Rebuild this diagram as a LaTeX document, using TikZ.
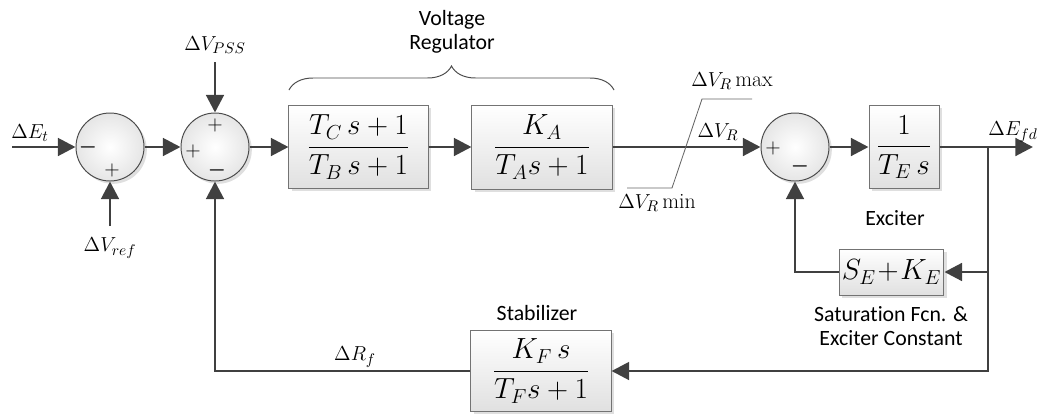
\documentclass[tikz,border=0pt]{standalone}
\usepackage{amsmath}
\usepackage{fontspec}
\setsansfont[Ligatures=NoCommon]{Carlito}
\usetikzlibrary{arrows.meta,shadows,decorations.pathreplacing}

\begin{document}
\begin{tikzpicture}[x=0.025cm, y=-0.025cm,
	wire/.style={line width=2.1pt, draw=black!75},
	sig/.style={wire, -{Triangle[length=0.44cm, width=0.44cm]}},
	blk/.style={shape=rectangle, draw=black!55, line width=0.7pt, top color=white, bottom color=black!12, drop shadow={opacity=0.25, shadow xshift=2pt, shadow yshift=-2pt}, inner sep=2pt, font=\fontsize{20}{24}\selectfont},
	sumj/.style={shape=circle, draw=black!70, line width=0.7pt, inner color=white, outer color=black!10, minimum size=1.7cm, drop shadow={opacity=0.25, shadow xshift=2pt, shadow yshift=-2pt}},
	lbl/.style={font=\fontsize{15.5}{18}\selectfont, inner sep=1pt},
	txt/.style={font=\sffamily\fontsize{15.5}{17}\selectfont, align=center},
	sgn/.style={font=\fontsize{14}{16}\selectfont, inner sep=0pt}]
	\useasboundingbox (0,0) rectangle (1039,416);
	% summing junctions
	\node[sumj] (s1) at (110,147){};
	\node[sumj] (s2) at (215,147){};
	\node[sumj] (s3) at (795,147){};
	% blocks
	\node[blk, minimum width=3.475cm, minimum height=2.075cm] (reg1) at (358.5,147){$\dfrac{T_C\,s+1}{T_B\,s+1}$};
	\node[blk, minimum width=3.5cm, minimum height=2.1cm] (reg2) at (542,147){$\dfrac{K_A}{T_A s+1}$};
	\node[blk, minimum width=1.75cm, minimum height=2.075cm] (exc) at (904,147){$\dfrac{1}{T_E\,s}$};
	\node[blk, minimum width=2.575cm, minimum height=1.15cm] (sat) at (891.5,272){$S_E\!+\!K_E$};
	\node[blk, minimum width=3.5cm, minimum height=2.025cm] (stab) at (541,371){$\dfrac{K_F\,s}{T_F s+1}$};
	% free ends
	\coordinate (et) at (12,147);
	\coordinate (pss) at (215,62);
	\coordinate (vref) at (110,226);
	\coordinate (efd) at (1033,147);
	\coordinate (br) at (988,147);
	\coordinate (tap) at (988,272);
	% connectors
	\draw[sig] (et) -- (s1);
	\draw[sig] (vref) -- (s1);
	\draw[sig] (s1) -- (s2);
	\draw[sig] (pss) -- (s2);
	\draw[sig] (s2) -- (reg1);
	\draw[sig] (reg1) -- (reg2);
	\draw[sig] (reg2) -- (s3);
	\draw[sig] (s3) -- (exc);
	\draw[sig] (exc) -- (efd);
	\draw[sig] (br) |- (stab.east);
	\draw[sig] (tap) -- (sat.east);
	\draw[sig] (sat.west) -| (s3.south);
	\draw[sig] (stab.west) -| (s2.south);
	% limiter
	\draw[black!60, line width=0.6pt] (627,188) -- (672,188) -- (702,99) -- (752,99);
	% brace
	\draw[black!70, line width=0.7pt, decorate, decoration={brace, amplitude=0.6cm}] (289,90) -- (614,90);
	% signs
	\node[sgn] (m1) at (88,147){$\boldsymbol{-}$};
	\node[sgn] (p1) at (112,170){$+$};
	\node[sgn] (p2) at (215,125){$+$};
	\node[sgn] (p3) at (193,151){$+$};
	\node[sgn] (m2) at (217,170){$\boldsymbol{-}$};
	\node[sgn] (p4) at (773,148){$+$};
	\node[sgn] (m3) at (800,166){$\boldsymbol{-}$};
	% signal labels
	\node[lbl] (let) at (30,133){$\Delta E_t$};
	\node[lbl] (lpss) at (215,45){$\Delta V_{PSS}$};
	\node[lbl] (lref) at (110,248){$\Delta V_{ref}$};
	\node[lbl] (lvr) at (718,132){$\Delta V_R$};
	\node[lbl] (lmax) at (732,81){$\Delta V_R\,\mathrm{max}$};
	\node[lbl] (lmin) at (657,203){$\Delta V_R\,\mathrm{min}$};
	\node[lbl] (lefd) at (1013,132){$\Delta E_{fd}$};
	\node[lbl] (lrf) at (355,357){$\Delta R_f$};
	% block captions
	\node[txt] (tvr) at (452,32){Voltage\\Regulator};
	\node[txt] (texc) at (895,218){Exciter};
	\node[txt] (tsat) at (891,326){Saturation Fcn. \&\\Exciter Constant};
	\node[txt] (tstab) at (537,313){Stabilizer};
\end{tikzpicture}
\end{document}
